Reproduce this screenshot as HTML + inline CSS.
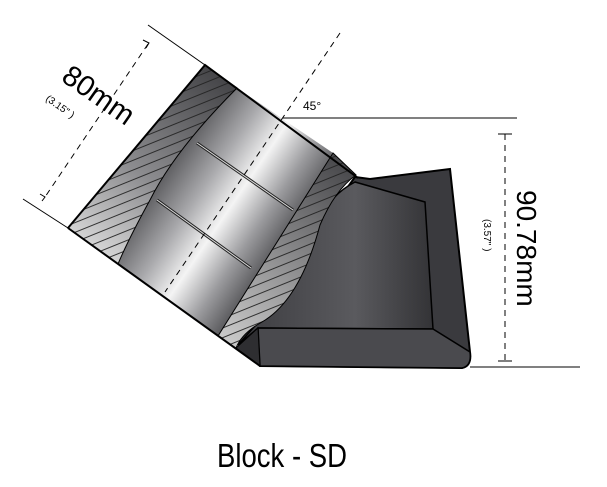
<!DOCTYPE html>
<html><head><meta charset="utf-8"><style>html,body{margin:0;padding:0;background:#fff}svg{display:block}</style></head><body>
<svg width="607" height="487" viewBox="0 0 607 487" xmlns="http://www.w3.org/2000/svg" font-family="Liberation Sans, sans-serif">
<defs>
<linearGradient id="cyl" gradientUnits="userSpaceOnUse" x1="150" y1="160" x2="290" y2="255">
<stop offset="0" stop-color="#3a3a3d"/><stop offset="0.35" stop-color="#a9a9ac"/><stop offset="0.55" stop-color="#f4f4f4"/><stop offset="0.75" stop-color="#9a9a9d"/><stop offset="1" stop-color="#3c3c3f"/>
</linearGradient>
<linearGradient id="hat" gradientUnits="userSpaceOnUse" x1="220" y1="60" x2="90" y2="250">
<stop offset="0" stop-color="#3e3e41"/><stop offset="0.6" stop-color="#8c8c8f"/><stop offset="1" stop-color="#d8d8d8"/>
</linearGradient>
<linearGradient id="hat2" gradientUnits="userSpaceOnUse" x1="350" y1="170" x2="230" y2="340">
<stop offset="0" stop-color="#4a4a4d"/><stop offset="1" stop-color="#c8c8c8"/>
</linearGradient>
<pattern id="hl" patternUnits="userSpaceOnUse" width="9" height="9" patternTransform="rotate(-22)">
<line x1="0" y1="0.5" x2="9" y2="0.5" stroke="#222" stroke-width="0.9"/>
</pattern>
<linearGradient id="blk" x1="0" y1="0" x2="1" y2="0">
<stop offset="0" stop-color="#3c3c40"/><stop offset="0.6" stop-color="#5a5a5e"/><stop offset="1" stop-color="#333336"/>
</linearGradient>
</defs>
<line x1="148" y1="25" x2="205" y2="65" stroke="#000" stroke-width="1"/>
<line x1="23" y1="199" x2="68" y2="228" stroke="#000" stroke-width="1"/>
<line x1="283" y1="118" x2="517" y2="118" stroke="#000" stroke-width="1"/>
<line x1="470" y1="367" x2="580" y2="367" stroke="#000" stroke-width="1"/>
<line x1="148" y1="44" x2="45" y2="197" stroke="#000" stroke-width="1" stroke-dasharray="6,5"/>
<polyline points="143,40 149,43 146,48" fill="none" stroke="#000" stroke-width="1"/>
<polyline points="40,194 45,197 42,201" fill="none" stroke="#000" stroke-width="1"/>
<path d="M355,177 L370,179 L450,169 L470,352 Q472,366 462,368 L260,366 L238,340 Z" fill="#3a3a3e" stroke="#000" stroke-width="2"/>
<path d="M355,182 L425,202 L433,329 L258,328 L238,345 L262,318 Q300,300 320,220 Q330,195 355,182 Z" fill="url(#blk)" stroke="#000" stroke-width="1.5"/>
<path d="M258,328 L433,329 L470,352 Q472,366 462,368 L260,366 Z" fill="#4a4a4e" stroke="#000" stroke-width="1.5"/>
<path d="M236,348 L258,328 L260,366 Z" fill="#2e2e31" stroke="#000" stroke-width="1"/>
<path d="M237,88 L333,153 L218,336 L118,264 Q150,170 237,88 Z" fill="url(#cyl)"/>
<path d="M205,65 L237,88 Q175,150 150,200 Q128,240 118,264 L68,228 Z" fill="url(#hat)"/>
<path d="M205,65 L237,88 Q175,150 150,200 Q128,240 118,264 L68,228 Z" fill="url(#hl)" stroke="#000" stroke-width="1"/>
<path d="M333,153 L356,175 Q335,190 320,225 Q300,300 262,322 Q242,333 236,348 L218,336 Z" fill="url(#hat2)"/>
<path d="M333,153 L356,175 Q335,190 320,225 Q300,300 262,322 Q242,333 236,348 L218,336 Z" fill="url(#hl)" stroke="#000" stroke-width="1"/>
<line x1="197" y1="143" x2="293" y2="210" stroke="#222" stroke-width="3"/>
<line x1="197" y1="143" x2="293" y2="210" stroke="#ddd" stroke-width="1"/>
<line x1="157" y1="200" x2="251" y2="268" stroke="#222" stroke-width="3"/>
<line x1="157" y1="200" x2="251" y2="268" stroke="#ddd" stroke-width="1"/>
<polyline points="68,228 205,65 358,178" fill="none" stroke="#000" stroke-width="2"/>
<line x1="68" y1="228" x2="260" y2="366" stroke="#000" stroke-width="2"/>
<line x1="340" y1="33" x2="165" y2="292" stroke="#000" stroke-width="1" stroke-dasharray="6,5"/>
<text x="303" y="110" font-size="12">45°</text>
<line x1="505" y1="134" x2="505" y2="360" stroke="#000" stroke-width="1" stroke-dasharray="6,5"/>
<line x1="498" y1="134" x2="512" y2="134" stroke="#000" stroke-width="1"/>
<line x1="498" y1="361" x2="512" y2="361" stroke="#000" stroke-width="1"/>
<text transform="translate(517,190) rotate(90)" font-size="28">90.78mm</text>
<text transform="translate(484,219) rotate(90)" font-size="10">(3.57"  )</text>
<text transform="translate(60,80) rotate(35)" font-size="29">80mm</text>
<text transform="translate(45,100) rotate(35)" font-size="10">(3.15"  )</text>
<text x="217" y="467" font-size="33" textLength="130" lengthAdjust="spacingAndGlyphs">Block - SD</text>
</svg>
</body></html>
